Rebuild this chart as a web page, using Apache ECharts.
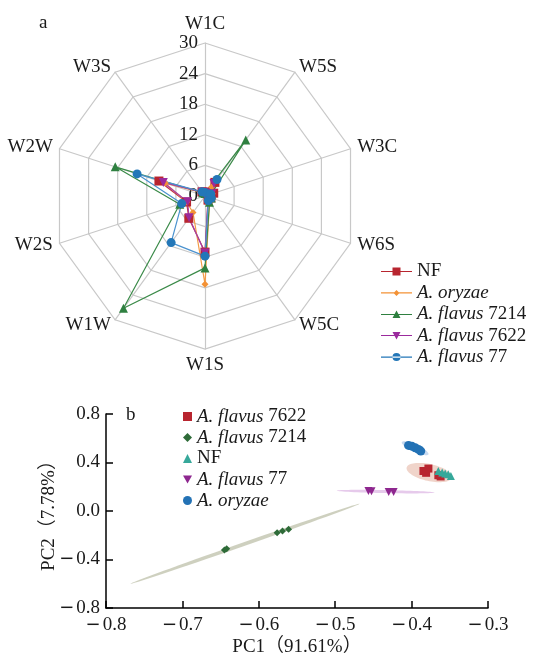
<!DOCTYPE html>
<html>
<head>
<meta charset="utf-8">
<script src="https://cdn.jsdelivr.net/npm/echarts@6/dist/echarts.min.js"></script>
<style>html,body{margin:0;padding:0;background:#fff;}#c{width:535px;height:658px;}</style>
</head>
<body>
<div id="c"></div>
<script>
// ---------- Data: radar (panel a), indicators listed clockwise from top ----------
const indicators = ['W1C','W5S','W3C','W6S','W5C','W1S','W1W','W2S','W2W','W3S'];
const radarMax = 30;
const radarNames = ['NF','A. oryzae','A. flavus 7214','A. flavus 7622','A. flavus 77'];
const valNF      = [0.8, 3.3, 1.8, 1.2, 1.0, 11.0, 5.4, 3.8, 9.5, 1.0];
const valOryzae  = [0.6, 2.2, 1.5, 1.6, 1.5, 17.3, 4.0, 3.8, 8.2, 0.8];
const val7214    = [0.5, 13.6, 1.3, 1.3, 1.5, 14.1, 27.2, 5.2, 18.5, 0.8];
const val7622    = [0.6, 3.0, 1.4, 1.2, 1.0, 11.2, 5.3, 3.6, 8.6, 0.9];
const val77      = [0.7, 4.0, 1.2, 1.3, 1.1, 11.8, 11.3, 4.8, 14.0, 1.0];

// ---------- Data: PCA (panel b) ----------
const pcaNames = ['A. flavus 7622','A. flavus 7214','NF','A. flavus 77','A. oryzae'];
const pca7622   = [[-0.3845,0.33],[-0.378,0.35],[-0.381,0.315],[-0.365,0.295],[-0.362,0.285]];
const pca7214   = [[-0.645,-0.322],[-0.642,-0.312],[-0.576,-0.18],[-0.569,-0.165],[-0.561,-0.15]];
const pcaNF     = [[-0.365,0.33],[-0.360,0.317],[-0.356,0.309],[-0.352,0.303],[-0.3486,0.289]];
const pca77     = [[-0.4565,0.165],[-0.4525,0.163],[-0.430,0.157],[-0.4235,0.157]];
const pcaOryzae = [[-0.404,0.541],[-0.3997,0.535],[-0.3953,0.522],[-0.391,0.508],[-0.388,0.494]];
// confidence ellipses: major-axis end points (x1,y1,x2,y2) and minor width (y units)
const ellipses = [
  [-0.768,-0.600,-0.468,0.060,0.03],
  [-0.498,0.168,-0.370,0.152,0.025],
  [-0.4128,0.568,-0.378,0.467,0.06],
  [-0.4065,0.358,-0.3473,0.276,0.14]
];
const xTicks = {min:-0.8, max:-0.3, interval:0.1};
const yTicks = {min:-0.8, max:0.8, interval:0.4};

// ---------- Styles ----------
const FONT = '"Liberation Serif","Times New Roman","Noto Sans CJK SC",serif';
const radarColors = ['#b8252f','#f39236','#2f8040','#9b2a9d','#2377b8'];
const radarLineColors = ['#c0343b','#f39a45','#3a8a48','#a53da6','#4a92cf'];
const downTri = 'path://M0,0L10,0L5,9Z';
const radarSymbols = ['rect','diamond','triangle',downTri,'circle'];
const radarSymbolSizes = [9,7,9,9,9];
const legendIconsA = [
  'path://M0,4.4H31V5.6H0Z M11.5,1H19.5V9H11.5Z',
  'path://M0,4.4H31V5.6H0Z M15.5,2L18.5,5L15.5,8L12.5,5Z',
  'path://M0,4.4H31V5.6H0Z M15.5,1L19.5,8.6L11.5,8.6Z',
  'path://M0,4.4H31V5.6H0Z M11.5,1.4H19.5L15.5,9Z',
  'path://M0,4.4H31V5.6H0Z M11.5,5A4,4 0 1,0 19.5,5A4,4 0 1,0 11.5,5Z'
];
const pcaColors = ['#b8252f','#2e6b38','#36a89a','#8e278f','#2372b5'];
const pcaSymbols = ['rect','diamond','triangle',downTri,'circle'];
const pcaSymbolSizes = [8,7,8,8,9];
const ellipseColors = ['rgba(190,192,170,0.75)','rgba(205,150,215,0.5)','rgba(170,198,232,0.65)','rgba(226,170,150,0.5)'];

function fmtName(n){
  if (n.indexOf('A. ') === 0) {
    const parts = n.split(' ');
    if (parts.length === 3) return '{i|' + parts[0] + ' ' + parts[1] + '} ' + parts[2];
    return '{i|' + n + '}';
  }
  return n;
}
function fmtNum(v){
  const s = Math.abs(v).toFixed(1);
  return v < -1e-9 ? '{m|−}' + s : s;
}
const minusStyle = {fontFamily: '"DejaVu Sans",sans-serif', fontSize: 18, color: '#1a1a1a', padding: [0, 2, 0, 0]};

// ECharts lays radar indicators counter-clockwise; reorder so the picture runs clockwise
const order = indicators.map((_, i) => (indicators.length - i) % indicators.length);
const radarVals = [valNF, valOryzae, val7214, val7622, val77];
const pcaData = [pca7622, pca7214, pcaNF, pca77, pcaOryzae];

const chart = echarts.init(document.getElementById('c'));
const option = {
  backgroundColor: '#fff',
  animation: false,
  textStyle: {fontFamily: FONT},
  title: [
    {text: 'a', left: 34, top: 9, textStyle: {fontFamily: FONT, fontSize: 19, fontWeight: 'normal', color: '#1a1a1a'}},
    {text: 'b', left: 121, top: 401, textStyle: {fontFamily: FONT, fontSize: 19, fontWeight: 'normal', color: '#1a1a1a'}}
  ],
  radar: {
    center: [205, 196],
    radius: 153,
    startAngle: 90,
    shape: 'polygon',
    splitNumber: 5,
    nameGap: 7,
    axisName: {color: '#1a1a1a', fontFamily: FONT, fontSize: 19},
    axisLine: {lineStyle: {color: '#c8c8c8', width: 1.2}},
    splitLine: {lineStyle: {color: '#c8c8c8', width: 1.2}},
    splitArea: {show: false},
    axisTick: {show: false},
    axisLabel: {show: false},
    indicator: order.map((k, i) => {
      const o = {name: indicators[k], min: 0, max: radarMax};
      if (i === 0) o.axisLabel = {show: true, color: '#1a1a1a', fontFamily: FONT, fontSize: 19, margin: 7};
      return o;
    })
  },
  legend: [
    {
      orient: 'vertical', left: 376, top: 257,
      itemWidth: 31, itemHeight: 10, itemGap: 2.4,
      textStyle: {fontFamily: FONT, fontSize: 19, color: '#1a1a1a', lineHeight: 18,
        rich: {i: {fontFamily: FONT, fontSize: 19, fontStyle: 'italic', color: '#1a1a1a'}}},
      formatter: fmtName,
      data: radarNames.map((n, i) => ({name: n, icon: legendIconsA[i], itemStyle: {color: radarColors[i]}}))
    },
    {
      orient: 'vertical', left: 178, top: 402,
      itemWidth: 9, itemHeight: 9, itemGap: 2,
      textStyle: {fontFamily: FONT, fontSize: 19, color: '#1a1a1a', lineHeight: 18,
        rich: {i: {fontFamily: FONT, fontSize: 19, fontStyle: 'italic', color: '#1a1a1a'}}},
      formatter: fmtName,
      data: pcaNames.map((n, i) => ({name: n, icon: pcaSymbols[i], itemStyle: {color: pcaColors[i]}}))
    }
  ],
  grid: {left: 106, right: 47, top: 414, bottom: 47},
  xAxis: {
    type: 'value', min: xTicks.min, max: xTicks.max, interval: xTicks.interval,
    name: 'PC1（91.61%）', nameLocation: 'middle', nameGap: 30, nameMoveOverlap: false,
    nameTextStyle: {fontFamily: FONT, fontSize: 19, color: '#1a1a1a'},
    axisLine: {show: true, onZero: false, lineStyle: {color: '#000', width: 1.5}},
    axisTick: {show: true, inside: true, length: 7, lineStyle: {color: '#000', width: 1.5}},
    splitLine: {show: false},
    axisLabel: {fontFamily: FONT, fontSize: 19, color: '#1a1a1a', margin: 8, formatter: fmtNum,
      rich: {m: minusStyle}}
  },
  yAxis: {
    type: 'value', min: yTicks.min, max: yTicks.max, interval: yTicks.interval,
    name: 'PC2（7.78%）', nameLocation: 'middle', nameGap: 47, nameRotate: 90, nameMoveOverlap: false,
    nameTextStyle: {fontFamily: FONT, fontSize: 19, color: '#1a1a1a'},
    axisLine: {show: true, onZero: false, lineStyle: {color: '#000', width: 1.5}},
    axisTick: {show: true, inside: true, length: 7, lineStyle: {color: '#000', width: 1.5}},
    splitLine: {show: false},
    axisLabel: {fontFamily: FONT, fontSize: 19, color: '#1a1a1a', margin: 6, formatter: fmtNum,
      rich: {m: minusStyle}}
  },
  series: [
    {
      type: 'radar',
      name: 'radar',
      z: 3,
      data: radarVals.map((v, i) => ({
        name: radarNames[i], value: order.map(k => v[k]),
        symbol: radarSymbols[i], symbolSize: radarSymbolSizes[i],
        itemStyle: {color: radarColors[i]},
        lineStyle: {color: radarLineColors[i], width: 1.2}
      }))
    },
    {
      type: 'custom',
      name: 'ellipses',
      coordinateSystem: 'cartesian2d',
      z: 1,
      silent: true,
      data: ellipses.map((e, i) => ({value: e, itemStyle: {color: ellipseColors[i]}})),
      renderItem: function (params, api) {
        const p1 = api.coord([api.value(0), api.value(1)]);
        const p2 = api.coord([api.value(2), api.value(3)]);
        const b = api.size([0, api.value(4)])[1] / 2;
        const cx = (p1[0] + p2[0]) / 2, cy = (p1[1] + p2[1]) / 2;
        const a = Math.hypot(p2[0] - p1[0], p2[1] - p1[1]) / 2;
        const ang = Math.atan2(p2[1] - p1[1], p2[0] - p1[0]);
        const pts = [];
        for (let k = 0; k < 72; k++) {
          const t = k / 72 * Math.PI * 2;
          const ex = a * Math.cos(t), ey = b * Math.sin(t);
          pts.push([cx + ex * Math.cos(ang) - ey * Math.sin(ang), cy + ex * Math.sin(ang) + ey * Math.cos(ang)]);
        }
        return {type: 'polygon', shape: {points: pts}, style: {fill: ellipseColors[params.dataIndex], stroke: null}};
      }
    }
  ].concat(pcaData.map((d, i) => ({
    type: 'scatter',
    name: pcaNames[i],
    z: 2,
    symbol: pcaSymbols[i],
    symbolSize: pcaSymbolSizes[i],
    itemStyle: {color: pcaColors[i], opacity: 1},
    data: d
  })))
};
chart.setOption(option);
</script>
</body>
</html>
